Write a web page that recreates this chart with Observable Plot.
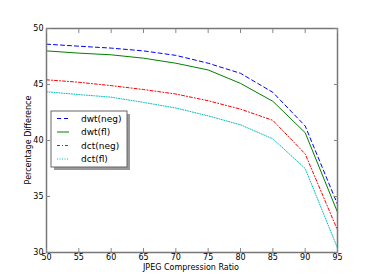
<!DOCTYPE html>
<html>
<head>
<meta charset="utf-8">
<script src="https://cdn.jsdelivr.net/npm/d3@7"></script>
<script src="https://cdn.jsdelivr.net/npm/@observablehq/plot@0.6"></script>
<style>
  html, body { margin: 0; padding: 0; background: #fff; }
  #chart { width: 374px; height: 280px; }
  svg { font-family: "DejaVu Sans", sans-serif; }
</style>
</head>
<body>
<div id="chart"></div>
<script>
const ratios = [50, 55, 60, 65, 70, 75, 80, 85, 90, 95];
const dwtNeg = [48.6, 48.42, 48.25, 48.0, 47.6, 46.9, 46.0, 44.3, 41.3, 34.3];
const dwtFl  = [48.0, 47.8, 47.65, 47.35, 46.9, 46.3, 45.1, 43.5, 40.7, 33.6];
const dctNeg = [45.42, 45.2, 44.9, 44.55, 44.15, 43.55, 42.8, 41.8, 38.8, 32.0];
const dctFl  = [44.35, 44.1, 43.87, 43.4, 42.9, 42.2, 41.4, 40.15, 37.5, 30.4];
const xTicks = [50, 55, 60, 65, 70, 75, 80, 85, 90, 95];
const yTicks = [30, 35, 40, 45, 50];

const series = [
  {name: "dwt(neg)", values: dwtNeg, color: "#0000ff", dash: "4,3"},
  {name: "dwt(fl)",  values: dwtFl,  color: "#008000", dash: null},
  {name: "dct(neg)", values: dctNeg, color: "#ff0000", dash: "3,2,1,2"},
  {name: "dct(fl)",  values: dctFl,  color: "#00bfbf", dash: "1,1.5"}
];

const lineMarks = series.map(s =>
  Plot.line(ratios.map((r, i) => ({x: r, y: s.values[i]})), {
    x: "x", y: "y", stroke: s.color, strokeWidth: 1,
    strokeDasharray: s.dash || undefined
  })
);

const plot = Plot.plot({
  width: 374,
  height: 280,
  marginLeft: 46,
  marginRight: 37,
  marginTop: 28,
  marginBottom: 28,
  style: {fontFamily: "DejaVu Sans, sans-serif", fontSize: "8px", background: "#fff"},
  x: {domain: [50, 95]},
  y: {domain: [30, 50]},
  marks: [
    ...lineMarks,
    Plot.frame({stroke: "#777", strokeWidth: 1.5}),
    Plot.axisX(xTicks, {anchor: "bottom", tickSize: 0, tickPadding: 2, fill: "#000", fontSize: 8, label: null}),
    Plot.axisX(xTicks, {anchor: "bottom", tickSize: -4, text: null, stroke: "#888", label: null}),
    Plot.axisX(xTicks, {anchor: "top", tickSize: -4, text: null, stroke: "#888", label: null}),
    Plot.axisY(yTicks, {anchor: "left", tickSize: 0, tickPadding: 3, fill: "#000", fontSize: 8, label: null}),
    Plot.axisY(yTicks, {anchor: "left", tickSize: -4, text: null, stroke: "#888", label: null}),
    Plot.axisY(yTicks, {anchor: "right", tickSize: -4, text: null, stroke: "#888", label: null})
  ]
});

document.getElementById("chart").appendChild(plot);

const svg = d3.select(plot);
svg.append("text")
  .attr("x", 191).attr("y", 270)
  .attr("text-anchor", "middle")
  .attr("font-size", 8).attr("fill", "#000")
  .text("JPEG Compression Ratio");
svg.append("text")
  .attr("transform", "translate(31,140) rotate(-90)")
  .attr("text-anchor", "middle")
  .attr("font-size", 8).attr("fill", "#000")
  .text("Percentage Difference");

// legend
const lg = svg.append("g").attr("text-anchor", "start");
lg.append("rect").attr("x", 54).attr("y", 114).attr("width", 76).attr("height", 56).attr("fill", "#999");
lg.append("rect").attr("x", 51).attr("y", 111).attr("width", 76).attr("height", 56)
  .attr("fill", "#fff").attr("stroke", "#666").attr("stroke-width", 1);
series.forEach((s, i) => {
  const y = 118.5 + i * 13.5;
  lg.append("line").attr("x1", 57).attr("x2", 69).attr("y1", y).attr("y2", y)
    .attr("stroke", s.color).attr("stroke-width", 1)
    .attr("stroke-dasharray", s.dash || null);
  lg.append("text").attr("x", 81).attr("y", y).attr("dy", "0.35em")
    .attr("text-anchor", "start")
    .attr("font-size", 9).attr("fill", "#000").text(s.name);
});
</script>
</body>
</html>
